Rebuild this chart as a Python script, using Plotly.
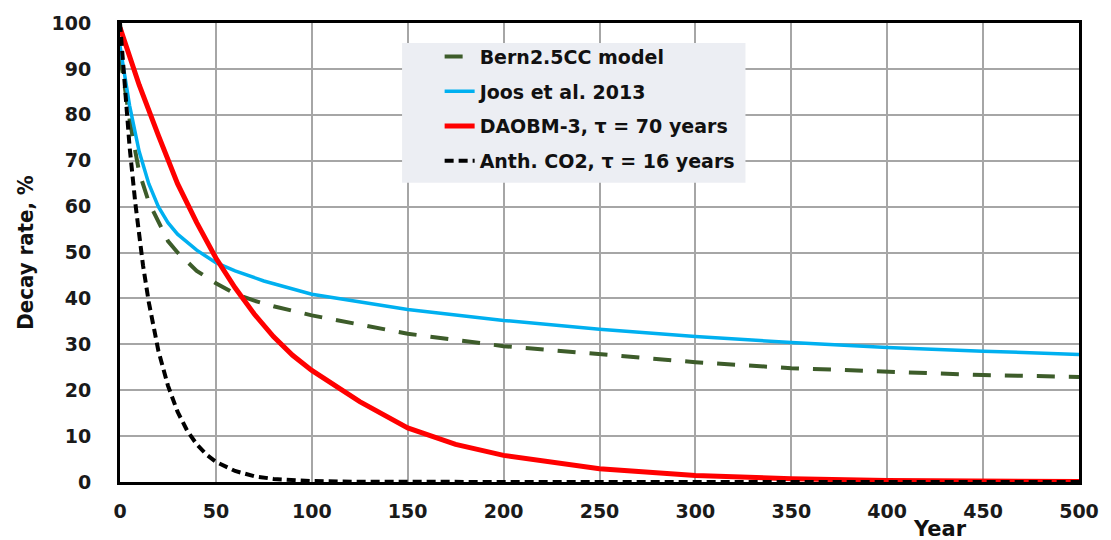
import plotly.graph_objects as go

# ---- data ----
bern_years = [0, 2, 5, 8, 10, 15, 20, 25, 30, 35, 40, 50, 60, 70, 80, 100, 150, 200, 250, 300, 350, 400, 450, 500]
bern_vals = [93, 87, 79, 72, 67.5, 61, 56.5, 52.5, 50, 48, 46, 43.3, 41, 39.5, 38.3, 36.3, 32.3, 29.6, 27.8, 26.1, 24.8, 24.0, 23.3, 22.9]

joos_years = [0, 2, 5, 10, 15, 20, 25, 30, 40, 50, 60, 75, 100, 150, 200, 250, 300, 350, 400, 450, 500]
joos_vals = [95, 89.5, 82, 72, 65, 60, 56.5, 54, 50.5, 47.8, 46, 43.8, 40.9, 37.6, 35.2, 33.3, 31.7, 30.4, 29.3, 28.5, 27.8]

daobm_years = [0, 10, 20, 30, 40, 50, 60, 70, 80, 90, 100, 125, 150, 175, 200, 250, 300, 350, 400, 450, 500]
daobm_vals = [99, 86.5, 75.5, 65, 56.5, 48.8, 42.3, 36.6, 31.7, 27.6, 24.3, 17.5, 11.8, 8.2, 5.8, 2.9, 1.4, 0.7, 0.35, 0.2, 0.1]

anth_years = [0, 2, 5, 8, 10, 12, 15, 20, 25, 30, 35, 40, 45, 50, 60, 70, 80, 90, 100, 125, 150, 200, 300, 400, 500]
anth_vals = [100, 88.2, 73, 60.7, 53.5, 47.2, 39.2, 28.6, 21, 15.3, 11.2, 8.2, 6, 4.4, 2.4, 1.25, 0.67, 0.36, 0.2, 0.04, 0.01, 0, 0, 0, 0]

x_ticks = [0, 50, 100, 150, 200, 250, 300, 350, 400, 450, 500]
y_ticks = [0, 10, 20, 30, 40, 50, 60, 70, 80, 90, 100]

names = ["Bern2.5CC model", "Joos et al. 2013", "DAOBM-3, \u03c4 = 70 years", "Anth. CO2, \u03c4 = 16 years"]

fig = go.Figure()
fig.add_trace(go.Scatter(x=bern_years, y=bern_vals, mode="lines", name=f"<b>{names[0]}</b>", legendgroup="a",
                         line=dict(color="#3d5c2a", width=4, dash="18px,14px")))
fig.add_trace(go.Scatter(x=joos_years, y=joos_vals, mode="lines", name=f"<b>{names[1]}</b>", legendgroup="b",
                         line=dict(color="#00b0f0", width=3.5)))
fig.add_trace(go.Scatter(x=daobm_years, y=daobm_vals, mode="lines", name=f"<b>{names[2]}</b>", legendgroup="c",
                         line=dict(color="#ff0000", width=5)))
fig.add_trace(go.Scatter(x=anth_years, y=anth_vals, mode="lines", name=f"<b>{names[3]}</b>", legendgroup="d",
                         line=dict(color="#000000", width=4, dash="9px,5px")))

tickfont = dict(family="DejaVu Sans", size=19, color="#1a1a1a")

fig.update_layout(
    width=1111, height=540,
    margin=dict(l=120, r=22, t=22, b=58),
    plot_bgcolor="white", paper_bgcolor="white",
    showlegend=True,
    legend=dict(
        x=0.3333, y=0.968, xanchor="left", yanchor="top",
        bgcolor="rgba(0,0,0,0)", borderwidth=0,
        font=dict(family="DejaVu Sans", size=19, color="#111111"),
        traceorder="grouped", tracegroupgap=7,
    ),
    shapes=[dict(
        type="rect", xref="paper", yref="paper",
        x0=(405 - 120) / 969, x1=(752 - 120) / 969,
        y0=(482 - 182) / 460, y1=(482 - 42) / 460,
        fillcolor="#eceef3", line=dict(width=0), layer="above",
    )],
    xaxis=dict(
        range=[0, 500], tickvals=x_ticks, ticktext=[f"<b>{v}</b>" for v in x_ticks],
        showgrid=True, gridcolor="#a6a6a6", gridwidth=1.5,
        showline=True, linecolor="#000000", linewidth=3, mirror=True,
        ticks="", ticklabelstandoff=10, tickfont=tickfont, zeroline=False,
    ),
    yaxis=dict(
        range=[0, 100], tickvals=y_ticks, ticktext=[f"<b>{v}</b>" for v in y_ticks],
        showgrid=True, gridcolor="#a6a6a6", gridwidth=1.5,
        showline=True, linecolor="#000000", linewidth=3, mirror=True,
        ticks="", ticklabelstandoff=22, tickfont=tickfont, zeroline=False,
        title=dict(text="<b>Decay rate, %</b>", standoff=12,
                   font=dict(family="DejaVu Sans Condensed", size=22, color="#111111")),
    ),
    annotations=[dict(
        text="<b>Year</b>", xref="paper", yref="paper", x=0.855, y=-0.103,
        xanchor="center", yanchor="middle", showarrow=False,
        font=dict(family="DejaVu Sans", size=21, color="#111111"),
    )],
)

fig.write_html("out.html")
